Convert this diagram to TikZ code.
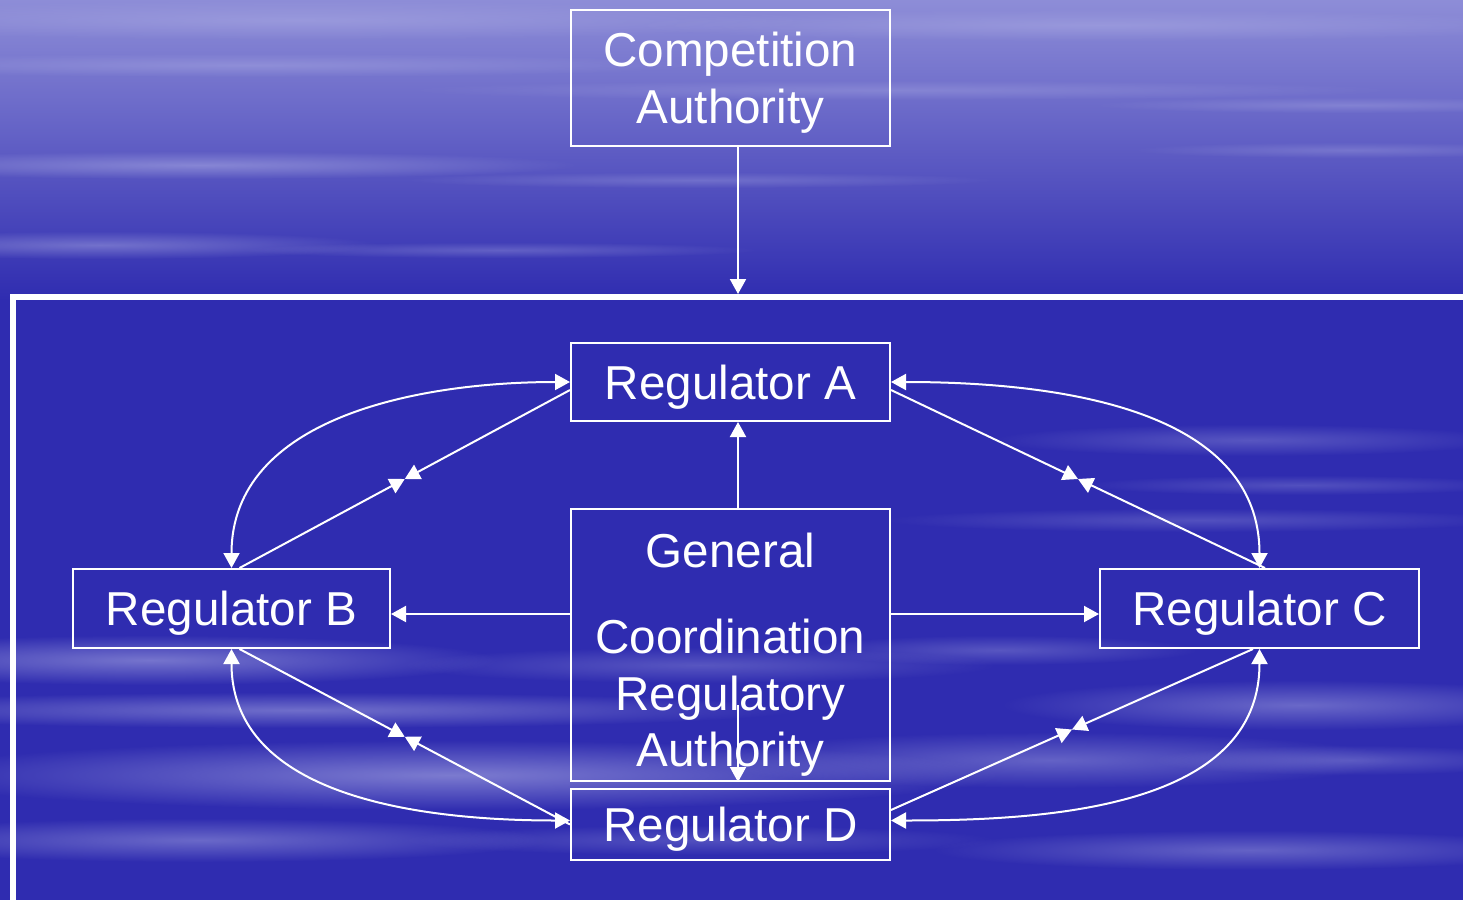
\documentclass[tikz,border=0pt]{standalone}
\usepackage{fontspec}
\setmainfont{Liberation Sans}
\usetikzlibrary{arrows.meta,calc,fadings}
\definecolor{bgblue}{RGB}{47,44,176}
\definecolor{mist}{RGB}{165,165,225}
\tikzfading[name=soft, inner color=transparent!0, outer color=transparent!100]

\begin{document}
\begin{tikzpicture}[x=0.5pt,y=-0.5pt,
    box/.style={draw=white,line width=1pt,text=white,inner sep=0pt,
      minimum width=159.5pt,align=center,text depth=0pt,
      font=\fontsize{23.8}{28.3}\selectfont},
    link/.style={draw=white,line width=1pt,-{Triangle[length=7.5pt,width=8pt]}},
    twoway/.style={link,{Triangle[length=7.5pt,width=8pt]}-{Triangle[length=7.5pt,width=8pt]}},
    streak/.style={fill=mist,path fading=soft}]
  \useasboundingbox (0,0) rectangle (1463,900);
  \clip (0,0) rectangle (1463,900);
  % background
  \fill[bgblue] (0,0) rectangle (1463,900);
  \shade[top color=mist!80!bgblue, bottom color=bgblue] (0,0) rectangle (1463,300);
  \foreach \cx/\cy/\rx/\ry/\op in {300/20/520/20/.6, 1100/25/480/16/.6, 250/65/450/12/.5,
      900/90/500/10/.4, 1350/105/260/8/.4, 200/165/380/14/.6, 700/180/300/8/.35,
      1350/150/220/8/.35, 100/245/280/14/.5, 500/250/260/8/.35, 1250/440/260/16/.35,
      1300/485/220/10/.3, 1200/520/320/12/.3,
      150/660/350/25/.6, 700/665/300/18/.35, 1000/650/200/15/.35, 300/710/500/18/.55,
      1300/705/300/25/.5, 450/775/550/35/.65, 1050/760/350/28/.45, 200/840/350/22/.5,
      1250/850/320/20/.45, 700/840/300/15/.3, 1350/760/200/15/.35}
    \fill[streak,fill opacity=\op] (\cx,\cy) ellipse [x radius=\rx, y radius=\ry];
  \draw[white,line width=3pt] (13,297) rectangle (1480,910);

  % boxes
  \node[box,minimum height=68pt] (ca) at (730.5,78) {Competition\\Authority};
  \node[box,minimum height=39pt] (ra) at (730.5,382) {Regulator A};
  \node[box,minimum height=136pt] (gen) at (730.5,645) {\rule{0pt}{22pt}General\\[15pt]Coordination\\Regulatory\\Authority};
  \node[box,minimum height=35.5pt] (rd) at (730.5,824.5) {Regulator D};
  \node[box,minimum height=39.5pt,minimum width=158.5pt] (rb) at (231.5,608.5) {Regulator B};
  \node[box,minimum height=39.5pt] (rc) at (1259.5,608.5) {Regulator C};

  % vertical links
  \coordinate (ft) at (738,294);
  \draw[link] ($(ca.south)+(7.5,0)$) -- (ft);
  \draw[link] ($(gen.north)+(7.5,0)$) -- ($(ra.south)+(7.5,0)$);
  \coordinate (gd) at ($(gen.center)+(7.5,60)$);
  \draw[link] (gd) -- ($(gen.south)+(7.5,0)$);

  % side links
  \coordinate (bl) at ($(rb.east)+(0,5.5)$);
  \coordinate (cl) at ($(rc.west)+(0,5.5)$);
  \draw[link] (gen.west |- bl) -- (bl);
  \draw[link] (gen.east |- cl) -- (cl);

  % curved two-way links
  \draw[twoway] (ra.west) to[out=180,in=90] (rb.north);
  \draw[twoway] (ra.east) to[out=0,in=90] (rc.north);
  \draw[twoway] (rb.south) to[out=-90,in=180] ($(rd.west)+(0,-4)$);
  \draw[twoway] (rc.south) to[out=-90,in=0] ($(rd.east)+(0,-4)$);

  % straight links meeting halfway
  \coordinate (ab1) at ($(ra.west)+(0,8)$);
  \coordinate (ab2) at ($(rb.north)+(8,0)$);
  \coordinate (ac1) at ($(ra.east)+(0,8)$);
  \coordinate (ac2) at ($(rc.north)+(5.5,0)$);
  \coordinate (bd1) at ($(rb.south)+(8,0)$);
  \coordinate (bd2) at (rd.west);
  \coordinate (cd1) at ($(rc.south)+(-6.5,0)$);
  \coordinate (cd2) at ($(rd.east)+(0,-14.5)$);
  \foreach \p/\q in {ab1/ab2,ac1/ac2,bd1/bd2,cd1/cd2}{
    \coordinate (\p m) at ($(\p)!0.5!(\q)$);
    \draw[link] (\p) -- (\p m);
    \draw[link] (\q) -- (\p m);
  }
\end{tikzpicture}
\end{document}
